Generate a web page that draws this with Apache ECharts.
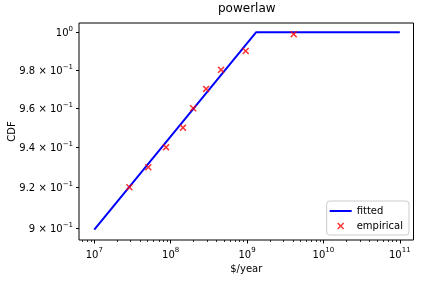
<!DOCTYPE html>
<html><head><meta charset="utf-8">
<script src="https://cdn.jsdelivr.net/npm/echarts@6/dist/echarts.min.js"></script>
<style>html,body{margin:0;padding:0;background:#fff}#c{width:421px;height:282px}</style>
</head><body><div id="c"></div>
<script>
// ---- data ----
const fittedX = [1e7, 1.31e9, 1e11];
const fittedY = [0.8993, 1.0, 1.0];
const empiricalX = [2.88e7, 5.1e7, 8.7e7, 1.45e8, 1.97e8, 2.91e8, 4.57e8, 9.6e8, 4.08e9];
const empiricalY = [0.92, 0.93, 0.94, 0.95, 0.96, 0.97, 0.98, 0.99, 0.999];
const xMajorTicks = [1e7, 1e8, 1e9, 1e10, 1e11];
const xTickLabels = ['10^7', '10^8', '10^9', '10^10', '10^11'];
const xMinorTicks = [7e6, 8e6, 9e6,
  2e7, 3e7, 4e7, 5e7, 6e7, 7e7, 8e7, 9e7,
  2e8, 3e8, 4e8, 5e8, 6e8, 7e8, 8e8, 9e8,
  2e9, 3e9, 4e9, 5e9, 6e9, 7e9, 8e9, 9e9,
  2e10, 3e10, 4e10, 5e10, 6e10, 7e10, 8e10, 9e10];
const yTicks = [0.9, 0.92, 0.94, 0.96, 0.98, 1.0];
const yTickLabels = ['9 × 10^−1', '9.2 × 10^−1', '9.4 × 10^−1', '9.6 × 10^−1', '9.8 × 10^−1', '10^0'];
const xRange = [6.31e6, 1.51e11];
const yRange = [0.8943, 1.005];

// ---- build ----
const L = Math.log10;
const FONT = 'DejaVu Sans';
function toRich(s) {
  const p = s.split('^');
  return '{a|' + p[0] + '}' + (p.length > 1 ? '{s|' + p[1] + '}' : '');
}
function labelFor(ticks, labels) {
  const lt = ticks.map(L);
  return v => { const i = lt.findIndex(t => Math.abs(t - v) < 1e-6); return i >= 0 ? toRich(labels[i]) : ''; };
}
const rich = {
  a: {fontFamily: FONT, fontSize: 10, color: '#000', lineHeight: 13, verticalAlign: 'bottom'},
  s: {fontFamily: FONT, fontSize: 7, color: '#000', lineHeight: 7, verticalAlign: 'top'}
};
const xSymbol = 'path://M0,1.5L1.5,0L5,3.5L8.5,0L10,1.5L6.5,5L10,8.5L8.5,10L5,6.5L1.5,10L0,8.5L3.5,5Z';
const chart = echarts.init(document.getElementById('c'), null, {renderer: 'canvas'});
chart.setOption({
  animation: false,
  textStyle: {fontFamily: FONT},
  title: {text: 'powerlaw', left: 218, top: 3, padding: 0,
    textStyle: {fontFamily: FONT, fontSize: 12, fontWeight: 'normal', color: '#000'}},
  grid: {left: 79, right: 7.5, top: 23, bottom: 42, show: true, borderColor: '#000', borderWidth: 1,
    containLabel: false, outerBoundsMode: 'none'},
  xAxis: [{
    type: 'value', min: L(xRange[0]), max: L(xRange[1]), position: 'bottom',
    name: '$/year', nameLocation: 'middle', nameGap: 24, nameMoveOverlap: false,
    nameTextStyle: {fontFamily: FONT, fontSize: 10, color: '#000'},
    axisLine: {show: false, onZero: false},
    axisTick: {show: true, length: 3.5, lineStyle: {color: '#000', width: 1}, customValues: xMajorTicks.map(L)},
    axisLabel: {show: true, margin: 7, fontFamily: FONT, fontSize: 10, color: '#000', rich: rich,
      customValues: xMajorTicks.map(L), formatter: labelFor(xMajorTicks, xTickLabels)},
    splitLine: {show: false}
  }, {
    type: 'value', min: L(xRange[0]), max: L(xRange[1]), position: 'bottom',
    axisLine: {show: false, onZero: false},
    axisTick: {show: true, length: 2, lineStyle: {color: '#000', width: 0.8}, customValues: xMinorTicks.map(L)},
    axisLabel: {show: false},
    splitLine: {show: false}
  }],
  yAxis: {
    type: 'value', min: L(yRange[0]), max: L(yRange[1]),
    name: 'CDF', nameLocation: 'middle', nameGap: 62, nameRotate: 90, nameMoveOverlap: false,
    nameTextStyle: {fontFamily: FONT, fontSize: 10, color: '#000'},
    axisLine: {show: false, onZero: false},
    axisTick: {show: true, length: 3, lineStyle: {color: '#000', width: 1}, customValues: yTicks.map(L)},
    axisLabel: {show: true, margin: 6, fontFamily: FONT, fontSize: 10, color: '#000', rich: rich,
      customValues: yTicks.map(L), formatter: labelFor(yTicks, yTickLabels)},
    splitLine: {show: false}
  },
  legend: {
    orient: 'vertical', right: 12, bottom: 47,
    itemWidth: 22, itemHeight: 7, itemGap: 5, padding: [5, 6, 4, 3],
    borderColor: '#cccccc', borderWidth: 1, borderRadius: 3,
    backgroundColor: 'rgba(255,255,255,0.8)',
    textStyle: {fontFamily: FONT, fontSize: 10, color: '#000'},
    data: [{name: 'fitted', icon: 'path://M0,0H22V2H0Z'}, {name: 'empirical'}]
  },
  series: [{
    name: 'fitted', type: 'line', xAxisIndex: 0,
    data: fittedX.map((x, i) => [L(x), L(fittedY[i])]),
    showSymbol: false, symbol: 'none',
    lineStyle: {color: '#0000ff', width: 2}, itemStyle: {color: '#0000ff'}, z: 2
  }, {
    name: 'empirical', type: 'scatter', xAxisIndex: 0,
    data: empiricalX.map((x, i) => [L(x), L(empiricalY[i])]),
    symbol: xSymbol, symbolSize: 7,
    itemStyle: {color: '#ff0000'}, z: 3
  }]
});
</script></body></html>
